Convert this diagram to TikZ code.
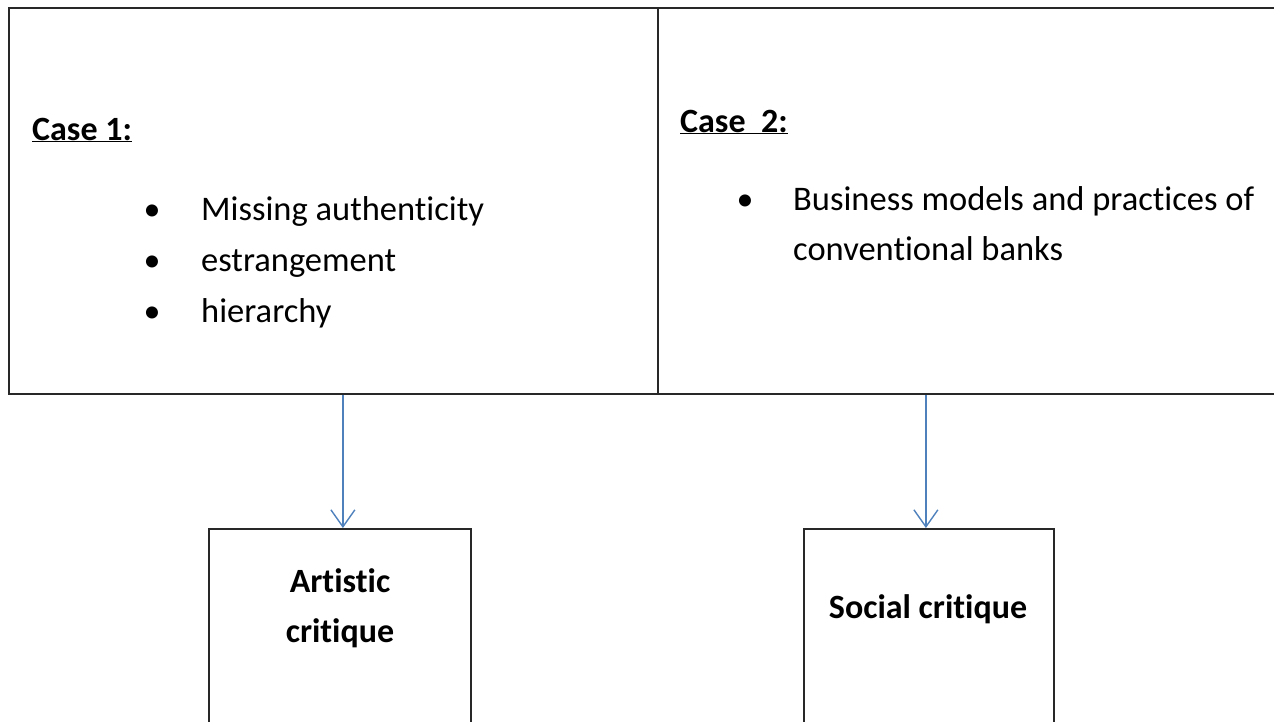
\documentclass[tikz,border=0pt]{standalone}
\usepackage{fontspec}
\setmainfont{Carlito}[Ligatures=NoCommon]
\usetikzlibrary{arrows.meta}
\definecolor{linegray}{RGB}{40,40,40}
\definecolor{arrowblue}{RGB}{79,129,189}
\tikzset{
  cell/.style={draw=linegray, line width=1.8pt, inner sep=0pt, anchor=north west},
  txt/.style={anchor=base west, inner sep=0pt, font=\fontsize{34.5}{50}\selectfont},
  btxt/.style={anchor=base, inner sep=0pt, font=\fontsize{34}{50}\selectfont\bfseries, align=center},
  bul/.style={anchor=base, inner sep=0pt, font=\fontsize{34}{52}\selectfont},
  link/.style={draw=arrowblue, line width=1.4pt, -{Straight Barb[length=17pt,width=24pt,line width=1.4pt]}}
}
\begin{document}
\begin{tikzpicture}[x=1pt,y=-1pt]
\useasboundingbox (0,0) rectangle (1274,721);
\clip (0,0) rectangle (1274,721);
% top table cells
\node[cell, minimum width=649pt, minimum height=386pt] (c1) at (8,7) {};
\node[cell, minimum width=640pt, minimum height=386pt] (c2) at (657,7) {};
% bottom boxes
\node[cell, minimum width=262pt, minimum height=240pt] (art) at (208,528) {};
\node[cell, minimum width=250pt, minimum height=240pt] (soc) at (803,528) {};
% case 1 text
\node[txt, font=\fontsize{34}{52}\selectfont\bfseries] (h1) at (32,140) {\underline{Case 1:}};
\node[bul] (b1) at (152,220) {•};
\node[bul] (b2) at (152,271) {•};
\node[bul] (b3) at (152,322) {•};
\node[txt] (t1) at (201,220) {Missing authenticity};
\node[txt] (t2) at (201,271) {estrangement};
\node[txt] (t3) at (201,322) {hierarchy};
% case 2 text
\node[txt, font=\fontsize{34}{52}\selectfont\bfseries] (h2) at (680,132) {\underline{Case\ \ 2:}};
\node[bul] (b4) at (745,210) {•};
\node[txt, align=left] (t4) at (793,260) {Business models and practices of\\conventional banks};
% bottom texts
\node[btxt] (at) at (340,642) {Artistic\\critique};
\node[btxt] (st) at (928,618) {Social critique};
% connectors
\coordinate (a1) at ([xshift=3pt]art.north);
\coordinate (s1) at ([xshift=-3pt]soc.north);
\draw[link] (a1 |- c1.south) -- (a1);
\draw[link] (s1 |- c2.south) -- (s1);
\end{tikzpicture}
\end{document}
